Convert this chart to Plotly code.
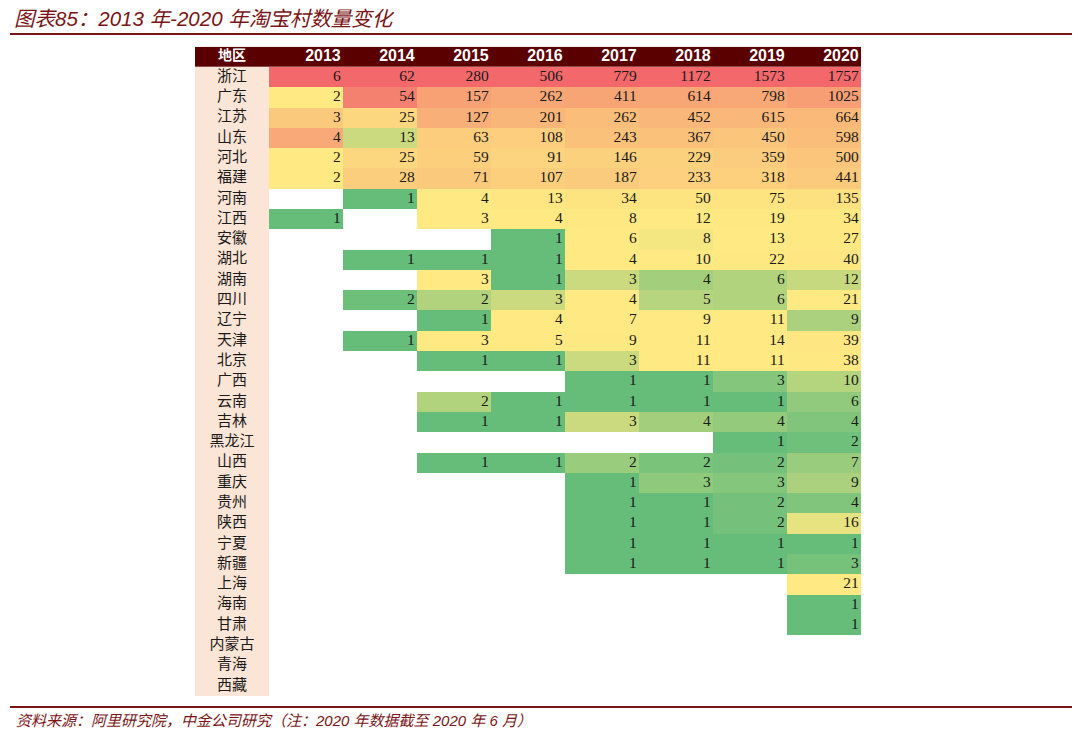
import numpy as np
import plotly.graph_objects as go

years = ["2013", "2014", "2015", "2016", "2017", "2018", "2019", "2020"]
regions = ["浙江", "广东", "江苏", "山东", "河北", "福建", "河南", "江西", "安徽", "湖北",
           "湖南", "四川", "辽宁", "天津", "北京", "广西", "云南", "吉林", "黑龙江", "山西",
           "重庆", "贵州", "陕西", "宁夏", "新疆", "上海", "海南", "甘肃", "内蒙古", "青海", "西藏"]
N = None
v2013 = [6, 2, 3, 4, 2, 2, N, 1, N, N, N, N, N, N, N, N, N, N, N, N, N, N, N, N, N, N, N, N, N, N, N]
v2014 = [62, 54, 25, 13, 25, 28, 1, N, N, 1, N, 2, N, 1, N, N, N, N, N, N, N, N, N, N, N, N, N, N, N, N, N]
v2015 = [280, 157, 127, 63, 59, 71, 4, 3, N, 1, 3, 2, 1, 3, 1, N, 2, 1, N, 1, N, N, N, N, N, N, N, N, N, N, N]
v2016 = [506, 262, 201, 108, 91, 107, 13, 4, 1, 1, 1, 3, 4, 5, 1, N, 1, 1, N, 1, N, N, N, N, N, N, N, N, N, N, N]
v2017 = [779, 411, 262, 243, 146, 187, 34, 8, 6, 4, 3, 4, 7, 9, 3, 1, 1, 3, N, 2, 1, 1, 1, 1, 1, N, N, N, N, N, N]
v2018 = [1172, 614, 452, 367, 229, 233, 50, 12, 8, 10, 4, 5, 9, 11, 11, 1, 1, 4, N, 2, 3, 1, 1, 1, 1, N, N, N, N, N, N]
v2019 = [1573, 798, 615, 450, 359, 318, 75, 19, 13, 22, 6, 6, 11, 14, 11, 3, 1, 4, 1, 2, 3, 2, 2, 1, 1, N, N, N, N, N, N]
v2020 = [1757, 1025, 664, 598, 500, 441, 135, 34, 27, 40, 12, 21, 9, 39, 38, 10, 6, 4, 2, 7, 9, 4, 16, 1, 3, 21, 1, 1, N, N, N]
columns = [v2013, v2014, v2015, v2016, v2017, v2018, v2019, v2020]

GREEN, YELLOW, RED = "#66BD7A", "#FEE982", "#F2686B"
HEADER, BEIGE = "#5A0000", "#FBE5D6"
DARKRED = "#7A1416"
W, H = 1080, 748
OFF = 8  # page body margin

nrow = len(regions)
# per-column three-colour scale: min -> green, median -> yellow, max -> red
z = np.full((nrow, len(years)), np.nan)
for j, col in enumerate(columns):
    vals = np.array([v for v in col if v is not None], dtype=float)
    lo, med, hi = vals.min(), np.percentile(vals, 50), vals.max()
    for i, v in enumerate(col):
        if v is None:
            continue
        if v <= med:
            z[i, j] = 0.0 if med == lo else 0.5 * (v - lo) / (med - lo)
        else:
            z[i, j] = 0.5 + 0.5 * (v - med) / (hi - med)

rows_y = list(range(1, nrow + 1))
cols_x = list(range(1, len(years) + 1))

fig = go.Figure()
fig.add_trace(go.Heatmap(x=[0] + cols_x, y=[0], z=[[0] * (len(years) + 1)],
                         colorscale=[[0, HEADER], [1, HEADER]], showscale=False, hoverinfo="skip"))
fig.add_trace(go.Heatmap(x=[0], y=rows_y, z=[[0] for _ in regions],
                         colorscale=[[0, BEIGE], [1, BEIGE]], showscale=False, hoverinfo="skip"))
fig.add_trace(go.Heatmap(x=cols_x, y=rows_y, z=z, zmin=0, zmax=1,
                         colorscale=[[0, GREEN], [0.5, YELLOW], [1, RED]], showscale=False))

fig.add_trace(go.Scatter(x=[0], y=[0], mode="text", text=["<b>地区</b>"], textposition="middle center",
                         textfont=dict(family="Noto Sans CJK SC", size=14, color="white"), hoverinfo="skip"))
fig.add_trace(go.Scatter(x=[c + 0.47 for c in cols_x], y=[0] * len(years), mode="text",
                         text=[f"<b>{y}</b>" for y in years], textposition="middle left",
                         textfont=dict(family="Liberation Sans", size=16, color="white"), hoverinfo="skip"))
fig.add_trace(go.Scatter(x=[0] * nrow, y=rows_y, mode="text", text=regions, textposition="middle center",
                         textfont=dict(family="Noto Sans CJK SC", size=15, color="#1a1a1a"), hoverinfo="skip"))
tx, ty, tt = [], [], []
for j, col in enumerate(columns):
    for i, v in enumerate(col):
        if v is not None:
            tx.append(cols_x[j] + 0.47)
            ty.append(rows_y[i])
            tt.append(str(v))
fig.add_trace(go.Scatter(x=tx, y=ty, mode="text", text=tt, textposition="middle left",
                         textfont=dict(family="Liberation Serif", size=15.5, color="#1a1a1a"), hoverinfo="skip"))


def px(x):
    return (x - OFF) / W


def py(y):
    return 1 - (y - OFF) / H


fig.update_layout(
    width=W, height=H, margin=dict(l=0, r=0, t=0, b=0),
    paper_bgcolor="white", plot_bgcolor="white", showlegend=False,
    xaxis=dict(range=[-0.5, len(years) + 0.5], domain=[px(195), px(861)], visible=False, fixedrange=True),
    yaxis=dict(range=[nrow + 0.5, -0.5], domain=[py(696), py(46.7)], visible=False, fixedrange=True),
    shapes=[
        dict(type="line", xref="paper", yref="paper", x0=px(10), x1=px(1075), y0=py(34), y1=py(34),
             line=dict(color=DARKRED, width=2)),
        dict(type="line", xref="paper", yref="paper", x0=px(10), x1=px(1075), y0=py(707), y1=py(707),
             line=dict(color=DARKRED, width=2)),
    ],
    annotations=[
        dict(text="图表85：2013 年-2020 年淘宝村数量变化", xref="paper", yref="paper",
             x=px(12), y=py(18), xanchor="left", yanchor="middle", showarrow=False,
             font=dict(family="Liberation Sans, Noto Sans CJK SC", size=20.5, color=DARKRED, style="italic")),
        dict(text="资料来源：阿里研究院，中金公司研究（注：2020 年数据截至 2020 年 6 月）", xref="paper", yref="paper",
             x=px(14), y=py(720), xanchor="left", yanchor="middle", showarrow=False,
             font=dict(family="Liberation Sans, Noto Sans CJK SC", size=15, color=DARKRED, style="italic")),
    ],
)

fig.write_html("out.html")
